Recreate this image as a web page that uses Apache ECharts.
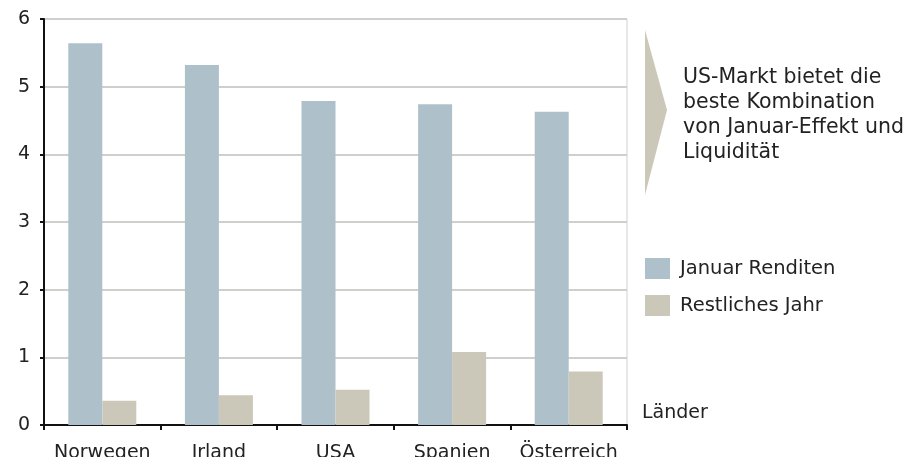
<!DOCTYPE html>
<html>
<head>
<meta charset="utf-8">
<script src="https://cdn.jsdelivr.net/npm/echarts@6/dist/echarts.min.js"></script>
<style>
  html, body { margin: 0; padding: 0; background: #ffffff; }
  #chart { width: 909px; height: 457px; }
</style>
</head>
<body>
<div id="chart"></div>
<script>
// Countries on the category axis
const laender = ['Norwegen', 'Irland', 'USA', 'Spanien', 'Österreich'];
// Average January returns per country
const januarRenditen = [5.64, 5.32, 4.79, 4.74, 4.63];
// Average returns over the remaining months
const restlichesJahr = [0.36, 0.44, 0.52, 1.08, 0.79];
// Value axis ticks
const yTicks = [0, 1, 2, 3, 4, 5, 6];

const seriesNames = ['Januar Renditen', 'Restliches Jahr'];
const noteLines = ['US-Markt bietet die', 'beste Kombination', 'von Januar-Effekt und', 'Liquidität'];

const FONT = '"DejaVu Sans", Verdana, sans-serif';
const BLUE = '#aec1ca';
const BEIGE = '#cbc8ba';

const chart = echarts.init(document.getElementById('chart'), null, { renderer: 'canvas' });

chart.setOption({
  backgroundColor: '#ffffff',
  animation: false,
  textStyle: { fontFamily: FONT },
  grid: {
    left: 44, right: 282, top: 19, bottom: 32,
    show: true, borderColor: '#cfcfca', borderWidth: 1,
    containLabel: false,
    outerBoundsMode: 'none'
  },
  legend: {
    orient: 'vertical',
    left: 645,
    top: 258,
    padding: 0,
    itemWidth: 25,
    itemHeight: 21,
    itemGap: 16,
    icon: 'rect',
    data: seriesNames,
    textStyle: { fontFamily: FONT, fontSize: 19.5, color: '#222222', padding: [0, 0, 0, 5] }
  },
  xAxis: {
    type: 'category',
    data: laender,
    name: 'Länder',
    nameLocation: 'end',
    nameGap: 15,
    nameTextStyle: { fontFamily: FONT, fontSize: 19, color: '#222222', verticalAlign: 'bottom', padding: [0, 0, 2, 0] },
    axisLine: { lineStyle: { color: '#111111', width: 2 } },
    axisTick: { show: true, length: 5, lineStyle: { color: '#111111', width: 2 } },
    axisLabel: { interval: 0, fontFamily: FONT, fontSize: 19, color: '#222222', margin: 19 },
    splitLine: { show: false }
  },
  yAxis: {
    type: 'value',
    min: yTicks[0],
    max: yTicks[yTicks.length - 1],
    interval: 1,
    axisLine: { show: true, lineStyle: { color: '#111111', width: 2 } },
    axisTick: { show: true, length: 4, lineStyle: { color: '#111111', width: 2 } },
    axisLabel: { fontFamily: FONT, fontSize: 19, color: '#222222', margin: 14 },
    splitLine: { show: true, lineStyle: { color: '#cfcfcb', width: 2 } }
  },
  series: [
    {
      name: seriesNames[0],
      type: 'bar',
      data: januarRenditen,
      barWidth: 34,
      barGap: '0%',
      itemStyle: { color: BLUE }
    },
    {
      name: seriesNames[1],
      type: 'bar',
      data: restlichesJahr,
      barWidth: 34,
      barGap: '0%',
      itemStyle: { color: BEIGE }
    }
  ],
  graphic: [
    {
      type: 'polygon',
      shape: { points: [[645, 30], [667, 110], [645, 195]] },
      style: { fill: BEIGE }
    },
    {
      type: 'text',
      left: 683,
      top: 65,
      style: {
        text: noteLines.join('\n'),
        font: '20.5px ' + FONT,
        lineHeight: 25,
        fill: '#222222'
      }
    }
  ]
});
</script>
</body>
</html>
